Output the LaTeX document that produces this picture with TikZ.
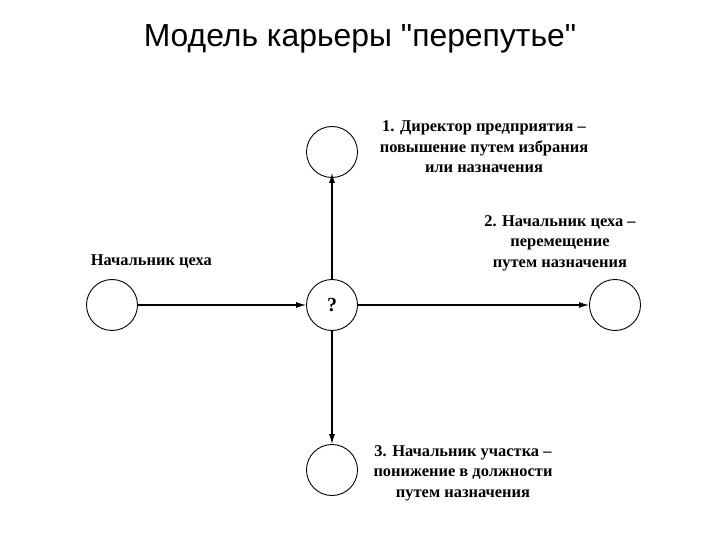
\documentclass[tikz,border=0pt]{standalone}
\usepackage{fontspec}
\setmainfont{Liberation Serif}
\newfontfamily\titlefont{Liberation Sans}
\usetikzlibrary{arrows.meta}
\begin{document}
\begin{tikzpicture}[x=1bp, y=-1bp, line width=0.9bp,
  post/.style={circle, draw, minimum size=51bp, inner sep=0pt},
  caption/.style={align=center, font=\fontsize{16.5}{20.5}\selectfont\bfseries},
  move/.style={-{Latex[length=10bp, width=6bp]}, line width=1.1bp}]
  \useasboundingbox (0,0) rectangle (720,540);
  % title
  \node[font=\titlefont\fontsize{32}{36}\selectfont] (title) at (360,39) {Модель карьеры "перепутье"};
  % positions
  \node[post] (start) at (112,305) {};
  \node[post, font=\fontsize{20}{22}\selectfont\bfseries] (choice) at (332,305) {?};
  \node[post] (up) at (332,152) {};
  \node[post] (side) at (615,305) {};
  \node[post] (down) at (332,470) {};
  % labels
  \node[caption, anchor=west] (startlbl) at (87,262) {Начальник цеха};
  \node[caption] (uplbl) at (484,147) {1. Директор предприятия --\\повышение путем избрания\\или назначения};
  \node[caption] (sidelbl) at (560,243) {2. Начальник цеха --\\перемещение\\путем назначения};
  \node[caption] (downlbl) at (463,473) {3. Начальник участка --\\понижение в должности\\путем назначения};
  % moves
  \coordinate (uptip) at ([yshift=5bp]up.south);
  \draw[move] (start) -- (choice);
  \draw[move] (choice) -- (side);
  \draw[move] (choice) -- (uptip);
  \draw[move] (choice) -- (down);
\end{tikzpicture}
\end{document}
